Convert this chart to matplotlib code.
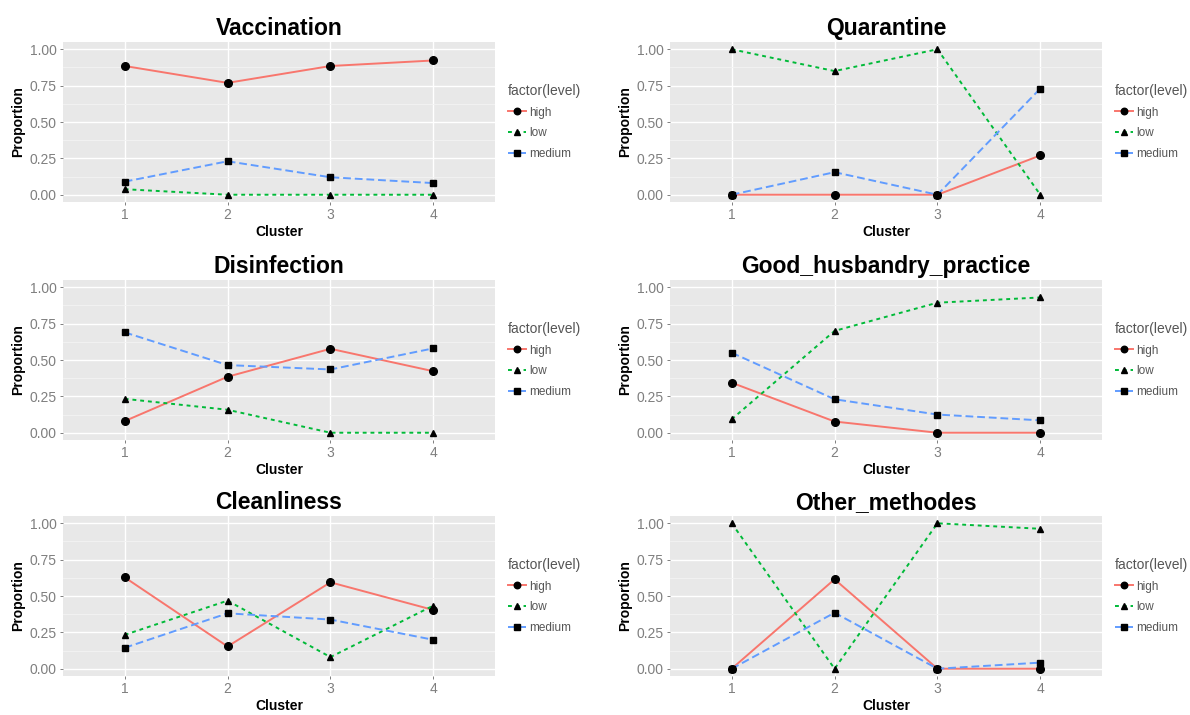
import matplotlib.pyplot as plt
from matplotlib.ticker import MultipleLocator

plt.rcParams['font.family'] = ['Liberation Sans', 'DejaVu Sans']

clusters = [1, 2, 3, 4]
levels = ['high', 'low', 'medium']
practices = ['Vaccination', 'Quarantine', 'Disinfection',
             'Good_husbandry_practice', 'Cleanliness', 'Other_methodes']

vaccination_high = [0.885, 0.769, 0.885, 0.923]
vaccination_low = [0.038, 0.0, 0.0, 0.0]
vaccination_medium = [0.09, 0.23, 0.12, 0.08]

quarantine_high = [0.0, 0.0, 0.0, 0.27]
quarantine_low = [1.0, 0.85, 1.0, 0.0]
quarantine_medium = [0.0, 0.155, 0.0, 0.73]

disinfection_high = [0.08, 0.385, 0.577, 0.423]
disinfection_low = [0.233, 0.158, 0.0, 0.0]
disinfection_medium = [0.69, 0.465, 0.435, 0.58]

husbandry_high = [0.344, 0.077, 0.0, 0.0]
husbandry_low = [0.093, 0.70, 0.894, 0.93]
husbandry_medium = [0.55, 0.23, 0.125, 0.085]

cleanliness_high = [0.628, 0.153, 0.594, 0.404]
cleanliness_low = [0.233, 0.468, 0.08, 0.434]
cleanliness_medium = [0.144, 0.381, 0.338, 0.199]

other_high = [0.0, 0.615, 0.0, 0.0]
other_low = [1.0, 0.0, 1.0, 0.962]
other_medium = [0.0, 0.385, 0.0, 0.042]

data = [
    [vaccination_high, vaccination_low, vaccination_medium],
    [quarantine_high, quarantine_low, quarantine_medium],
    [disinfection_high, disinfection_low, disinfection_medium],
    [husbandry_high, husbandry_low, husbandry_medium],
    [cleanliness_high, cleanliness_low, cleanliness_medium],
    [other_high, other_low, other_medium],
]

# ggplot-ish look: colour, dash pattern and marker per level
styles = {
    'high': dict(color='#F8766D', marker='o', ms=5.5, dashes=()),
    'low': dict(color='#00BA38', marker='^', ms=5, dashes=(2, 2)),
    'medium': dict(color='#619CFF', marker='s', ms=5, dashes=(4, 2)),
}

W, H = 1190, 715
fig = plt.figure(figsize=(W / 100, H / 100), dpi=100)

col_x = [63, 670]
row_y = [42, 280, 516]
pw, ph = 432, 160

for i, name in enumerate(practices):
    x0 = col_x[i % 2]
    y0 = row_y[i // 2]
    ax = fig.add_axes([x0 / W, 1 - (y0 + ph) / H, pw / W, ph / H])
    ax.set_facecolor('#E8E8E8')
    for s in ax.spines.values():
        s.set_visible(False)

    for lev, vals in zip(levels, data[i]):
        st = styles[lev]
        line, = ax.plot(clusters, vals, color=st['color'], lw=1.4,
                        marker=st['marker'], ms=st['ms'], mfc='black',
                        mec='black', label=lev, zorder=3)
        if st['dashes']:
            line.set_dashes(st['dashes'])

    ax.set_xlim(0.4, 4.6)
    ax.set_ylim(-0.05, 1.05)
    ax.set_xticks(clusters)
    ax.set_yticks([0, 0.25, 0.5, 0.75, 1.0])
    ax.set_yticklabels(['0.00', '0.25', '0.50', '0.75', '1.00'])
    ax.yaxis.set_minor_locator(MultipleLocator(0.125))
    ax.grid(which='major', color='white', lw=1.0)
    ax.grid(which='minor', axis='y', color='#F3F3F3', lw=0.6)
    ax.set_axisbelow(True)
    ax.tick_params(which='major', length=2.5, width=0.7, color='#7F7F7F',
                   labelcolor='#7F7F7F', labelsize=10, pad=2)
    ax.tick_params(which='minor', length=0)

    ax.set_title(name, fontsize=16.5, fontweight='bold', pad=5)
    ax.set_xlabel('Cluster', fontsize=10, fontweight='bold', labelpad=2)
    ax.set_ylabel('Proportion', fontsize=10, fontweight='bold', labelpad=3)

    leg = ax.legend(title='factor(level)', loc='center left',
                    bbox_to_anchor=(1.03, 0.5), frameon=False, fontsize=8.5,
                    title_fontsize=10, handlelength=1.5, handletextpad=0.3,
                    labelspacing=0.75, borderpad=0, borderaxespad=0,
                    alignment='left', markerscale=0.85)
    leg.get_title().set_color('#555555')
    for t in leg.get_texts():
        t.set_color('#555555')

fig.savefig('out.png', dpi=100)
